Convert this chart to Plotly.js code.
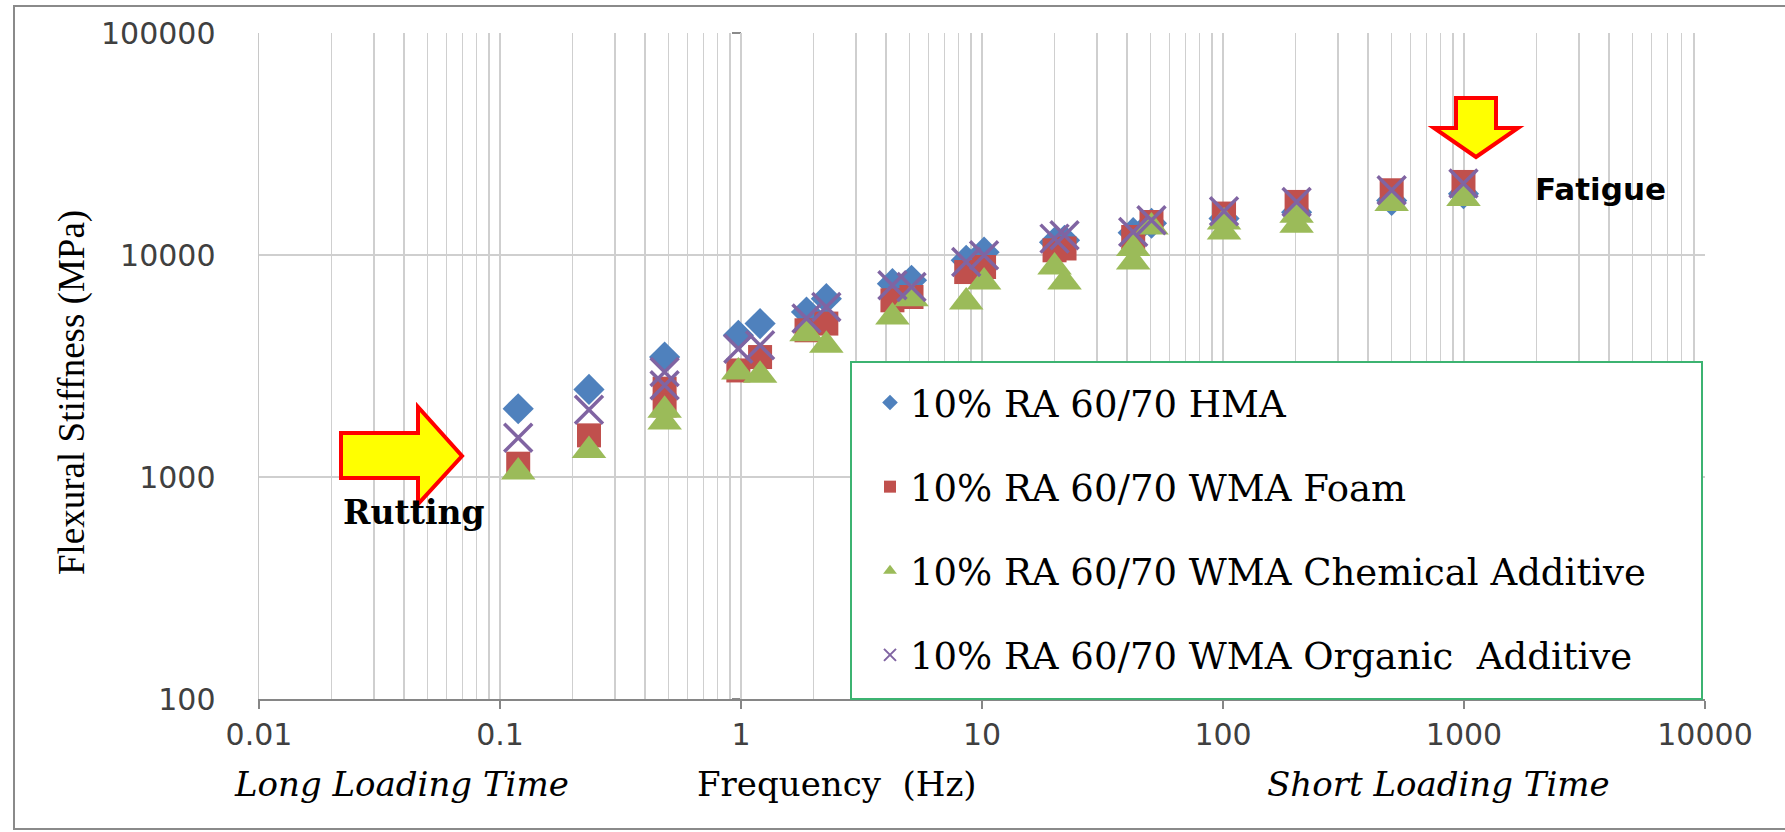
<!DOCTYPE html>
<html>
<head>
<meta charset="utf-8">
<script src="https://cdn.plot.ly/plotly-3.0.1.min.js"></script>
<style>
html,body{margin:0;padding:0;background:#ffffff;}
#chart{width:1785px;height:832px;}
</style>
</head>
<body>
<div id="chart"></div>
<script>
// ---------------- data ----------------
const seriesNames = [
  "10% RA 60/70 HMA",
  "10% RA 60/70 WMA Foam",
  "10% RA 60/70 WMA Chemical Additive",
  "10% RA 60/70 WMA Organic  Additive"
];

const hmaFreq  = [0.119, 0.234, 0.482, 0.975, 1.2, 1.87, 2.26, 4.25, 5.1, 8.6, 10.2, 20, 22, 42.4, 50.5, 101, 202, 501, 995];
const hmaStiff = [2030, 2480, 3470, 4350, 4910, 5535, 6360, 7430, 7690, 9465, 10300, 11400, 11650, 12600, 13900, 14600, 15600, 17600, 18900];

const foamFreq  = [0.119, 0.234, 0.482, 0.482, 0.975, 1.2, 1.87, 2.26, 4.25, 5.1, 8.6, 10.2, 20, 22, 42.4, 50.5, 101, 202, 501, 995];
const foamStiff = [1148, 1540, 2500, 2100, 3020, 3470, 4580, 4910, 6250, 6470, 8380, 8830, 10500, 10700, 12050, 14080, 15370, 17340, 19570, 21330];

const chemFreq  = [0.119, 0.234, 0.482, 0.482, 0.975, 1.2, 1.87, 2.26, 4.25, 5.1, 8.6, 10.2, 20, 22, 42.4, 42.4, 50.5, 101, 101, 202, 202, 501, 995];
const chemStiff = [1052, 1318, 2000, 1770, 2970, 2870, 4424, 3918, 5255, 6360, 6140, 7550, 8830, 7550, 10690, 9300, 13370, 14080, 12700, 15100, 13600, 17050, 17950];

const orgFreq  = [0.119, 0.234, 0.482, 0.482, 0.975, 1.2, 1.87, 2.26, 4.25, 5.1, 8.6, 10.2, 20, 22, 42.4, 50.5, 101, 202, 501, 995];
const orgStiff = [1503, 2010, 2970, 2590, 3786, 3918, 5170, 5830, 7305, 7175, 9300, 9970, 11850, 12270, 12700, 14330, 15740, 17340, 19570, 20980];

const xTickVals = [0.01, 0.1, 1, 10, 100, 1000, 10000];
const xTickText = ["0.01", "0.1", "1", "10", "100", "1000", "10000"];
const yTickVals = [100, 1000, 10000, 100000];
const yTickText = ["100", "1000", "10000", "100000"];

const xTitle = "Frequency  (Hz)";
const yTitle = "Flexural Stiffness (MPa)";
const leftNote = "Long Loading Time";
const rightNote = "Short Loading Time";
const ruttingLabel = "Rutting";
const fatigueLabel = "Fatigue";

// ---------------- geometry helpers ----------------
const W = 1785, H = 832;
const M = {l: 259, r: 80, t: 33, b: 133};
const PW = W - M.l - M.r, PH = H - M.t - M.b;
function px(x) { return (x - M.l) / PW; }
function py(y) { return (H - M.b - y) / PH; }
function pathFrom(points) {
  return points.map((p, i) => (i === 0 ? "M" : "L") + px(p[0]).toFixed(5) + "," + py(p[1]).toFixed(5)).join(" ") + " Z";
}

// minor grid positions on the log x axis (2..9 of each decade)
const minorX = [];
for (let d = -2; d < 4; d++) {
  for (let m = 2; m <= 9; m++) minorX.push(m * Math.pow(10, d));
}

// ---------------- traces ----------------
const traces = [
  {type: "scatter", mode: "markers", name: seriesNames[0], x: hmaFreq, y: hmaStiff, legendgroup: "g1",
   marker: {symbol: "diamond", size: 24, color: "#4f81bd"}},
  {type: "scatter", mode: "markers", name: seriesNames[1], x: foamFreq, y: foamStiff, legendgroup: "g2",
   marker: {symbol: "square", size: 24, color: "#c0504d"}},
  {type: "scatter", mode: "markers", name: seriesNames[2], x: chemFreq, y: chemStiff, legendgroup: "g3",
   marker: {symbol: "triangle-up", size: 30, color: "#9bbb59"}},
  {type: "scatter", mode: "markers", name: seriesNames[3], x: orgFreq, y: orgStiff, legendgroup: "g4",
   marker: {symbol: "x-thin", size: 28, color: "#8064a2", line: {color: "#8064a2", width: 3.5}}}
];

// ---------------- decorations ----------------
const shapes = [
  // outer chart frame
  {type: "rect", xref: "paper", yref: "paper", x0: px(14), x1: px(1800), y0: py(6), y1: py(829),
   line: {color: "#8a8a8a", width: 2}, layer: "below"},
  // vertical axis crossing at 1 Hz
  {type: "line", xref: "paper", yref: "paper", x0: 1/3, x1: 1/3, y0: 0, y1: 1,
   line: {color: "#8a8a8a", width: 2}, layer: "below"},
  // legend box
  {type: "rect", xref: "paper", yref: "paper", x0: px(851), x1: px(1702), y0: py(362), y1: py(699),
   line: {color: "#3cb371", width: 2}, fillcolor: "#ffffff", layer: "above"},
  // rutting arrow
  {type: "path", xref: "paper", yref: "paper",
   path: pathFrom([[341,433],[418,433],[418,407],[462,456],[418,504],[418,478],[341,478]]),
   fillcolor: "#ffff00", line: {color: "#ff0000", width: 4}, layer: "above"},
  // fatigue arrow
  {type: "path", xref: "paper", yref: "paper",
   path: pathFrom([[1456,98],[1496,98],[1496,128],[1518,128],[1476,157],[1434,128],[1456,128]]),
   fillcolor: "#ffff00", line: {color: "#ff0000", width: 4}, layer: "above"}
];
// small tick marks on the 1 Hz axis
yTickVals.forEach(v => {
  const yf = (Math.log10(v) - 2) / 3;
  shapes.push({type: "line", xref: "paper", yref: "paper", x0: 1/3 - 9/PW, x1: 1/3, y0: yf, y1: yf,
    line: {color: "#8a8a8a", width: 2}, layer: "below"});
});

const annotations = [
  {text: yTitle, xref: "paper", yref: "paper", x: px(72), y: py(392), textangle: -90,
   showarrow: false, xanchor: "center", yanchor: "middle",
   font: {family: "Liberation Serif, Times New Roman, serif", size: 37, color: "#000"}},
  {text: xTitle, xref: "paper", yref: "paper", x: px(837), y: py(784), showarrow: false,
   xanchor: "center", yanchor: "middle",
   font: {family: "DejaVu Serif, serif", size: 34, color: "#000"}},
  {text: "<i>" + leftNote + "</i>", xref: "paper", yref: "paper", x: px(401), y: py(784), showarrow: false,
   xanchor: "center", yanchor: "middle",
   font: {family: "DejaVu Serif, serif", size: 34, color: "#000"}},
  {text: "<i>" + rightNote + "</i>", xref: "paper", yref: "paper", x: px(1438), y: py(784), showarrow: false,
   xanchor: "center", yanchor: "middle",
   font: {family: "DejaVu Serif, serif", size: 34, color: "#000"}},
  {text: "<b>" + ruttingLabel + "</b>", xref: "paper", yref: "paper", x: px(414), y: py(512), showarrow: false,
   xanchor: "center", yanchor: "middle",
   font: {family: "DejaVu Serif, serif", size: 33, color: "#000"}},
  {text: "<b>" + fatigueLabel + "</b>", xref: "paper", yref: "paper", x: px(1600), y: py(189), showarrow: false,
   xanchor: "center", yanchor: "middle",
   font: {family: "DejaVu Sans, sans-serif", size: 31, color: "#000"}}
];

const layout = {
  width: W, height: H,
  margin: M,
  paper_bgcolor: "#ffffff", plot_bgcolor: "#ffffff",
  showlegend: true,
  xaxis: {
    type: "log", range: [-2, 4], tickmode: "array", tickvals: xTickVals, ticktext: xTickText,
    showgrid: true, gridcolor: "#cfcfcf", gridwidth: 1.5,
    minor: {tickmode: "array", tickvals: minorX, showgrid: true, gridcolor: "#cfcfcf", gridwidth: 1.5, ticks: ""},
    showline: true, linecolor: "#868686", linewidth: 2,
    ticks: "outside", ticklen: 8, tickwidth: 1.5, tickcolor: "#868686",
    ticklabelstandoff: 0,
    tickfont: {family: "DejaVu Sans, sans-serif", size: 30, color: "#404040"},
    zeroline: false, fixedrange: true
  },
  yaxis: {
    type: "log", range: [2, 5], tickmode: "array", tickvals: yTickVals, ticktext: yTickText,
    showgrid: true, gridcolor: "#cfcfcf", gridwidth: 1.5,
    showline: true, linecolor: "#c8c8c8", linewidth: 1.5,
    ticks: "", ticklabelstandoff: 36,
    tickfont: {family: "DejaVu Sans, sans-serif", size: 30, color: "#404040"},
    zeroline: false, fixedrange: true
  },
  legend: {
    x: px(870), y: py(372), xanchor: "left", yanchor: "top",
    bgcolor: "rgba(0,0,0,0)", borderwidth: 0,
    font: {family: "DejaVu Serif, serif", size: 37, color: "#000"},
    itemsizing: "constant", tracegroupgap: 33, traceorder: "grouped"
  },
  shapes: shapes,
  annotations: annotations
};

Plotly.newPlot("chart", traces, layout, {displayModeBar: false, staticPlot: true});
</script>
</body>
</html>
